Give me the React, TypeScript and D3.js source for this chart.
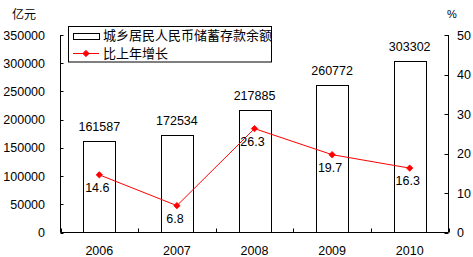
import React from "react";
import * as d3 from "d3";

const years = ["2006", "2007", "2008", "2009", "2010"];
const deposits = [161587, 172534, 217885, 260772, 303302];
const growth = [14.6, 6.8, 26.3, 19.7, 16.3];
const leftTicks = [0, 50000, 100000, 150000, 200000, 250000, 300000, 350000];
const rightTicks = [0, 10, 20, 30, 40, 50];
const legendBar = "城乡居民人民币储蓄存款余额";
const legendLine = "比上年增长";
const leftUnit = "亿元";
const rightUnit = "%";

const W = 473;
const H = 257;
const X0 = 60.5;
const X1 = 448.5;
const Y0 = 232.5;
const Y1 = 35;
const NUM_FONT = "'Liberation Sans', Arial, sans-serif";
const CJK_FONT = "'Noto Sans CJK SC', 'Liberation Sans', sans-serif";

export default function App() {
  const x = d3.scaleBand<string>().domain(years).range([X0, X1]).padding(0);
  const yL = d3.scaleLinear().domain([0, 350000]).range([Y0, Y1]);
  const yR = d3.scaleLinear().domain([0, 50]).range([Y0, Y1]);
  const step = x.step();
  const barW = step * 0.41;
  const cx = (c: string) => (x(c) as number) + step / 2;

  const line = d3
    .line<number>()
    .x((_, i) => cx(years[i]))
    .y((d) => yR(d));

  const diamond = (px: number, py: number, r = 3.2) =>
    `M${px},${py - r}L${px + r},${py}L${px},${py + r}L${px - r},${py}Z`;

  const boundaries = years.map((c) => x(c) as number).concat([X1]);

  return (
    <svg
      width={W}
      height={H}
      style={{ position: "absolute", left: 0, top: 0, background: "#fff" }}
    >
      <rect x={0} y={0} width={W} height={H} fill="#fff" />
      {/* bars */}
      {deposits.map((v, i) => {
        const c = cx(years[i]);
        return (
          <rect
            key={"b" + i}
            x={Math.round(c - barW / 2) + 0.5}
            y={Math.round(yL(v)) + 0.5}
            width={Math.round(barW)}
            height={Y0 - Math.round(yL(v)) - 0.5}
            fill="#fff"
            stroke="#000"
            strokeWidth={1}
          />
        );
      })}
      {/* bar labels */}
      {deposits.map((v, i) => (
        <text
          key={"bl" + i}
          x={cx(years[i])}
          y={yL(v) - 10}
          textAnchor="middle"
          fontFamily={NUM_FONT}
          fontSize={12.5}
          fill="#000"
        >
          {String(v)}
        </text>
      ))}
      {/* axes */}
      <line x1={X0} y1={Y1} x2={X0} y2={Y0} stroke="#000" />
      <line x1={X1} y1={Y1} x2={X1} y2={Y0} stroke="#000" />
      <line x1={X0} y1={Y0} x2={X1} y2={Y0} stroke="#000" />
      {leftTicks.map((t) => (
        <g key={"lt" + t}>
          <line
            x1={X0}
            x2={X0 + 3}
            y1={Math.round(yL(t)) + 0.5}
            y2={Math.round(yL(t)) + 0.5}
            stroke="#000"
          />
          <text
            x={45}
            y={yL(t) + 4.5}
            textAnchor="end"
            fontFamily={NUM_FONT}
            fontSize={12.5}
            fill="#000"
          >
            {String(t)}
          </text>
        </g>
      ))}
      {rightTicks.map((t) => (
        <g key={"rt" + t}>
          <line
            x1={X1 - 4}
            x2={X1}
            y1={Math.round(yR(t)) + 0.5}
            y2={Math.round(yR(t)) + 0.5}
            stroke="#000"
          />
          <text
            x={457}
            y={yR(t) + 4.5}
            textAnchor="start"
            fontFamily={NUM_FONT}
            fontSize={12.5}
            fill="#000"
          >
            {String(t)}
          </text>
        </g>
      ))}
      {boundaries.map((b, i) => (
        <line
          key={"xt" + i}
          x1={Math.round(b) + 0.5}
          x2={Math.round(b) + 0.5}
          y1={Y0}
          y2={Y0 - 4}
          stroke="#000"
        />
      ))}
      {years.map((c) => (
        <text
          key={"xl" + c}
          x={cx(c)}
          y={255}
          textAnchor="middle"
          fontFamily={NUM_FONT}
          fontSize={12.5}
          fill="#000"
        >
          {c}
        </text>
      ))}
      {/* line series */}
      <path d={line(growth) || ""} fill="none" stroke="#ff0000" strokeWidth={1} />
      {growth.map((g, i) => (
        <path key={"m" + i} d={diamond(cx(years[i]), yR(g))} fill="#ff0000" stroke="#ff0000" strokeWidth={0.8} />
      ))}
      {growth.map((g, i) => (
        <text
          key={"gl" + i}
          x={cx(years[i]) - 2}
          y={yR(g) + 17}
          textAnchor="middle"
          fontFamily={NUM_FONT}
          fontSize={12.5}
          fill="#000"
        >
          {g.toFixed(1)}
        </text>
      ))}
      {/* units */}
      <text x={24} y={19} textAnchor="middle" fontFamily={CJK_FONT} fontSize={12} fill="#000">
        {leftUnit}
      </text>
      <text x={452} y={18} textAnchor="middle" fontFamily={NUM_FONT} fontSize={11} fill="#000">
        {rightUnit}
      </text>
      {/* legend */}
      <rect x={68.5} y={26.5} width={203} height={35.5} fill="#fff" stroke="#000" />
      <rect x={73.5} y={33.5} width={26} height={6} fill="#fff" stroke="#000" />
      <text x={103} y={40} fontFamily={CJK_FONT} fontSize={13} fill="#000">
        {legendBar}
      </text>
      <line x1={73} x2={99} y1={53.5} y2={53.5} stroke="#ff0000" />
      <path d={diamond(86, 53.5)} fill="#ff0000" stroke="#ff0000" strokeWidth={0.8} />
      <text x={103} y={58} fontFamily={CJK_FONT} fontSize={13} fill="#000">
        {legendLine}
      </text>
    </svg>
  );
}
